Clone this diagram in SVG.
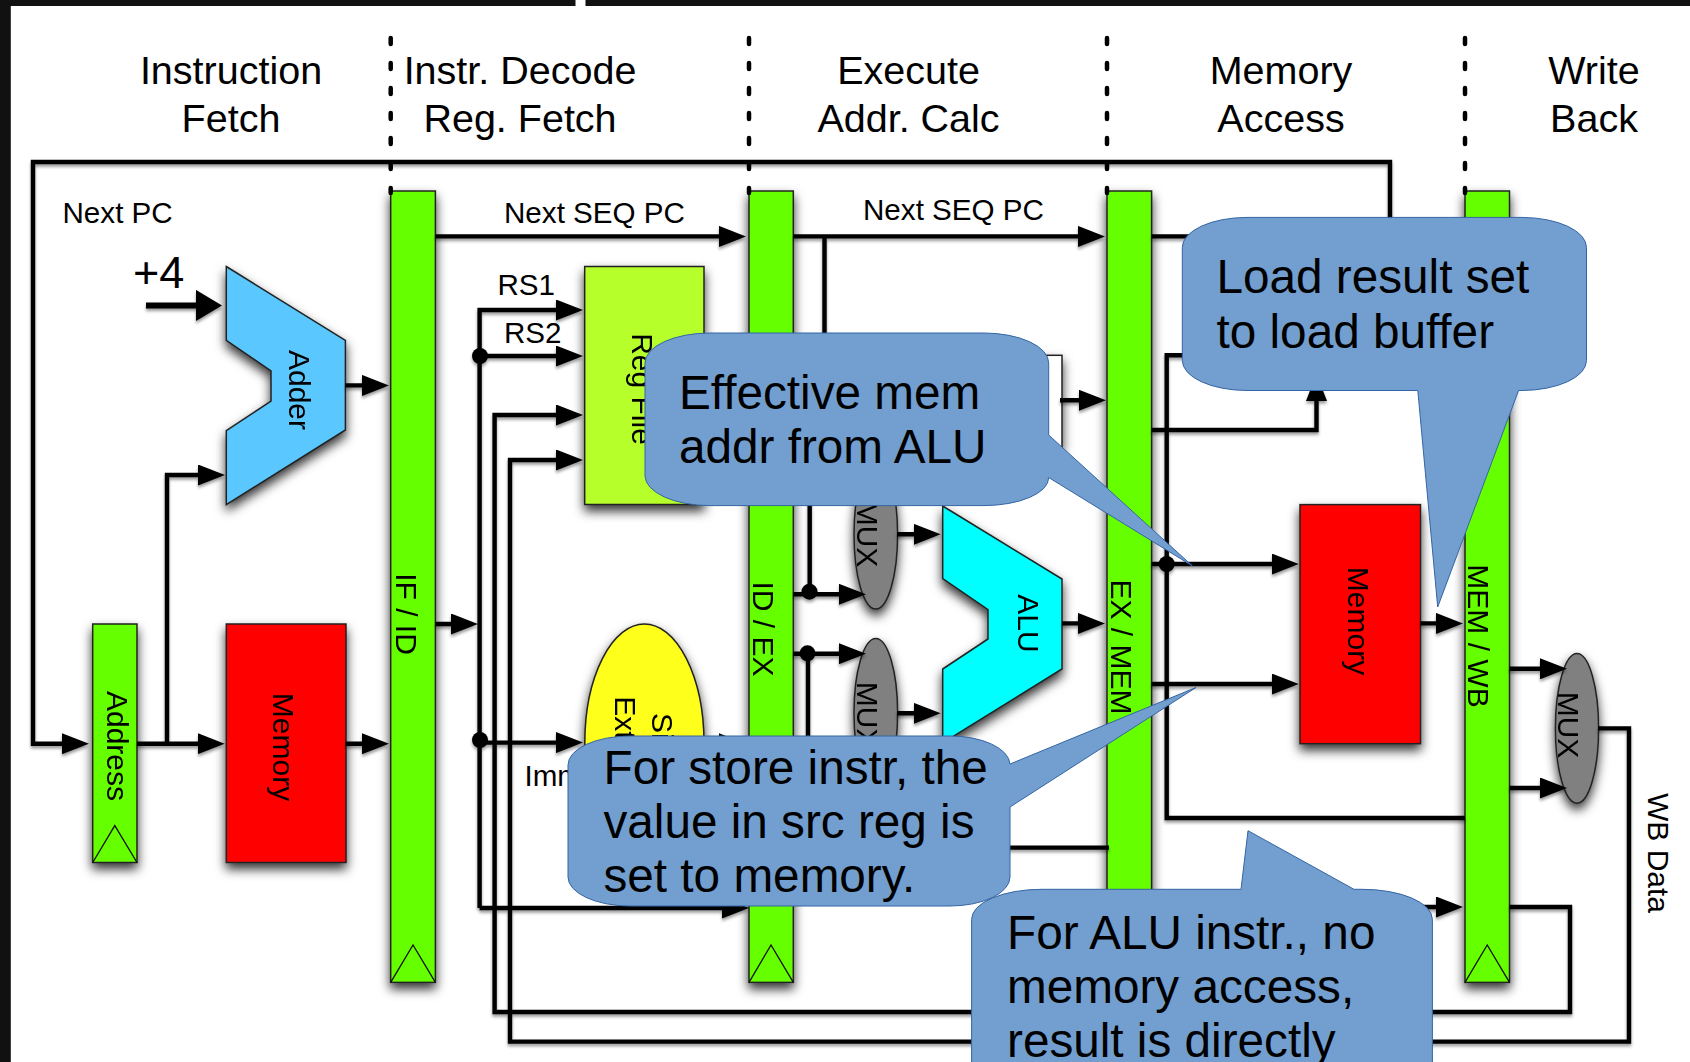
<svg xmlns="http://www.w3.org/2000/svg" width="1690" height="1062" viewBox="0 0 1690 1062">
<style>
text{font-family:"Liberation Sans",Arial,sans-serif;fill:#000}
.h{font-size:39.5px;text-anchor:middle}
.l{font-size:29.6px}
.r{font-size:30px;text-anchor:middle}
.n{font-size:47.7px}
.box{stroke:#222;stroke-width:1.5}
.bar{fill:#66ff00;stroke:#222;stroke-width:1.5}
.clk{fill:none;stroke:#111;stroke-width:1.3}
.w{fill:none;stroke:#000;stroke-width:4.4;stroke-linejoin:miter}
.a{marker-end:url(#ah)}
.sep{fill:none;stroke:#000;stroke-width:4.5;stroke-dasharray:6 19;stroke-linecap:round}
.note{fill:#729fcf;stroke:#3465a4;stroke-width:1}
</style>
<defs>
<marker id="ah" markerUnits="userSpaceOnUse" markerWidth="27" markerHeight="21" viewBox="0 0 27 21" refX="17" refY="10.5" orient="auto"><path d="M0 0L27 10.5L0 21Z" fill="#000"/></marker>
<marker id="ah4" markerUnits="userSpaceOnUse" markerWidth="26" markerHeight="31" viewBox="0 0 26 31" refX="16" refY="15.5" orient="auto"><path d="M0 0L26 15.5L0 31Z" fill="#000"/></marker>
<filter id="sh" x="-40%" y="-20%" width="180%" height="140%"><feDropShadow dx="0" dy="6" stdDeviation="5.5" flood-color="#000" flood-opacity=".8"/></filter>
<filter id="ls" filterUnits="userSpaceOnUse" x="0" y="0" width="1690" height="1062"><feDropShadow dx="0" dy="2.5" stdDeviation="1.6" flood-color="#000" flood-opacity=".4"/></filter>
</defs>
<rect width="1690" height="1062" fill="#fff"/>
<g id="frame"><rect x="0" y="0" width="10.8" height="1062" fill="#111"/><rect x="0" y="0" width="575.5" height="6" fill="#111"/><rect x="585.5" y="0" width="1104.5" height="6" fill="#111"/></g>
<g id="stage-labels">
<text class="h" x="231" y="84">Instruction</text><text class="h" x="231" y="131.5">Fetch</text>
<text class="h" x="520" y="84">Instr. Decode</text><text class="h" x="520" y="131.5">Reg. Fetch</text>
<text class="h" x="908.5" y="84">Execute</text><text class="h" x="908.5" y="131.5">Addr. Calc</text>
<text class="h" x="1281" y="84">Memory</text><text class="h" x="1281" y="131.5">Access</text>
<text class="h" x="1594" y="84">Write</text><text class="h" x="1594" y="131.5">Back</text>
</g>
<g id="address" filter="url(#sh)"><rect class="bar" x="92.7" y="624" width="44.3" height="238.5"/><path class="clk" d="M92.7 862.5L114.8 825.6L137 862.5"/><text class="r" transform="translate(107 746) rotate(90)">Address</text></g>
<g id="instr-memory" filter="url(#sh)"><rect class="box" fill="#ff0000" x="226.3" y="624" width="119.7" height="238.5"/><text class="r" transform="translate(272.5 747) rotate(90)">Memory</text></g>
<g id="adder" filter="url(#sh)"><path class="box" fill="#5ac8ff" d="M226.3 266.5L345.4 340.3V430L226.3 504.6V430.7L271 401V370.8L226.3 340.3Z"/><text class="r" transform="translate(289 390) rotate(90)">Adder</text></g>
<g id="if-id" filter="url(#sh)"><rect class="bar" x="390.7" y="191" width="44.7" height="791.4"/><path class="clk" d="M390.7 982.4L413 945L435.4 982.4"/><text class="r" transform="translate(395.5 614) rotate(90)">IF / ID</text></g>
<g id="reg-file" filter="url(#sh)"><rect class="box" fill="#b6ff2a" x="584.7" y="266.5" width="119.3" height="238"/><text class="r" transform="translate(632 389) rotate(90)">Reg File</text></g>
<g id="sign-extend" filter="url(#sh)"><ellipse class="box" fill="#ffff1f" cx="644.4" cy="743" rx="59.6" ry="119"/><text class="r" transform="translate(651.5 743) rotate(90)">Sign</text><text class="r" transform="translate(615 743) rotate(90)">Extend</text></g>
<g id="id-ex" filter="url(#sh)"><rect class="bar" x="749" y="191" width="44.3" height="791.4"/><path class="clk" d="M749 982.4L771 945L793.3 982.4"/><text class="r" transform="translate(752.5 629) rotate(90)">ID / EX</text></g>
<g id="mux-upper" filter="url(#sh)"><ellipse class="box" fill="#808080" cx="875.8" cy="534.5" rx="21.8" ry="74.5"/><text class="r" transform="translate(856.5 534) rotate(90)">MUX</text></g>
<g id="mux-lower" filter="url(#sh)"><ellipse class="box" fill="#808080" cx="875.8" cy="713" rx="21.8" ry="74.5"/><text class="r" transform="translate(856.5 715) rotate(90)">MUX</text></g>
<g id="alu" filter="url(#sh)"><path class="box" fill="#00ffff" d="M942.7 506L1062 579V669L942.7 743V669L988 639V609.6L942.7 578.5Z"/><text class="r" transform="translate(1017.5 623.5) rotate(90)">ALU</text></g>
<g id="zero-box" filter="url(#sh)"><rect class="box" fill="#fff" x="990" y="355.3" width="72" height="91.7"/></g>
<g id="ex-mem" filter="url(#sh)"><rect class="bar" x="1107" y="191" width="44.6" height="791.4"/><path class="clk" d="M1107 982.4L1129.3 945L1151.6 982.4"/><text class="r" transform="translate(1111 647) rotate(90)">EX / MEM</text></g>
<g id="data-memory" filter="url(#sh)"><rect class="box" fill="#ff0000" x="1300" y="504.6" width="120.5" height="239.1"/><text class="r" transform="translate(1347.5 621) rotate(90)">Memory</text></g>
<g id="mem-wb" filter="url(#sh)"><rect class="bar" x="1465" y="191" width="44.5" height="791.4"/><path class="clk" d="M1465 982.4L1487.2 945L1509.5 982.4"/><text class="r" transform="translate(1467.5 636) rotate(90)">MEM / WB</text></g>
<g id="mux-wb" filter="url(#sh)"><ellipse class="box" fill="#808080" cx="1577" cy="728.4" rx="21.6" ry="74.8"/><text class="r" transform="translate(1558 725) rotate(90)">MUX</text></g>
<path id="separators" class="sep" d="M390.7 38V193M749 38V193M1107 38V193M1465 38V193"/>
<g id="connectors" filter="url(#ls)">
<path class="w a" d="M1390 220V162H33V743.7H79"/>
<path class="w" style="stroke-width:6;marker-end:url(#ah4)" d="M146 305.4H212"/>
<path class="w a" d="M167 743.7V475H215"/>
<path class="w a" d="M137 743.7H214.7"/>
<path class="w a" d="M345.4 743.7H379"/>
<path class="w a" d="M345.4 385.4H379"/>
<path class="w a" d="M435.4 236.4H736"/>
<path class="w a" d="M793.3 236.4H1095"/>
<path class="w" d="M1151.6 236.4H1190M824.5 236.4V340"/>
<path class="w a" d="M435.4 624H468"/>
<path class="w a" d="M479.6 908V310H573"/>
<path class="w a" d="M479.6 908H739"/>
<path class="w a" d="M479.6 356H573"/>
<path class="w a" d="M479.6 742.6H573"/>
<path class="w a" d="M1509.5 907H1570V1012H494.6V415H573"/>
<path class="w a" d="M1598 728.4H1629V1041.6H510V460H573"/>
<path class="w a" d="M704 743.7H736"/>
<path class="w a" d="M1151.6 907H1453"/>
<path class="w" d="M1000 847.6H1109"/>
<path class="w" d="M809.7 500V594M808 653.7V740"/>
<path class="w a" d="M793.3 594.3H856"/>
<path class="w a" d="M793.3 653.7H856"/>
<path class="w a" d="M897 534.3H930.7"/>
<path class="w a" d="M897 713.3H930.7"/>
<path class="w a" d="M1062 623.4H1095"/>
<path class="w a" d="M1060 400.3H1096"/>
<path class="w" d="M1190 355.3H1166.7V818H1465"/>
<path class="w a" d="M1151.6 564H1288.7"/>
<path class="w a" d="M1151.6 684H1288.7"/>
<path class="w a" d="M1151.6 430H1316.5V384"/>
<path class="w a" d="M1420.5 623.4H1453"/>
<path class="w a" d="M1509.5 668.8H1557"/>
<path class="w a" d="M1509.5 788H1557"/>
<circle cx="480" cy="356" r="8"/><circle cx="480" cy="740" r="8"/><circle cx="809.5" cy="591.7" r="8"/><circle cx="807.5" cy="653.3" r="8"/><circle cx="1166.7" cy="564" r="8"/>
</g>
<g id="wire-labels">
<text class="l" x="62.5" y="223">Next PC</text>
<text class="l" x="504" y="223">Next SEQ PC</text>
<text class="l" x="863" y="220">Next SEQ PC</text>
<text class="l" style="font-size:45px" x="133" y="288">+4</text>
<text class="l" x="497.5" y="295">RS1</text>
<text class="l" x="504" y="343">RS2</text>
<text class="l" x="524.5" y="786">Imm</text>
<text class="r" transform="translate(1648 853) rotate(90)">WB Data</text>
</g>
<g id="note-effective"><path class="note" d="M710 333H984A65 30 0 0 1 1048.7 363V435L1192.5 566L1048.7 477.5A65 28 0 0 1 984 505.6H710A65 30 0 0 1 645 476V363A65 30 0 0 1 710 333Z"/><text class="n" x="679" y="409">Effective mem</text><text class="n" x="679" y="463">addr from ALU</text></g>
<g id="note-load"><path class="note" d="M1247 217.4H1522A65 30 0 0 1 1586.5 247.4V360.5A65 30 0 0 1 1522 390.5H1518.6L1437.7 607L1417.8 390.5H1247A65 30 0 0 1 1182.3 360.5V247.4A65 30 0 0 1 1247 217.4Z"/><text class="n" x="1216.5" y="293">Load result set</text><text class="n" x="1216.5" y="348">to load buffer</text></g>
<g id="note-store"><path class="note" d="M630 736H950A60 29 0 0 1 1010 764L1196 687.5L1010 807V877A60 29 0 0 1 950 906H630A62 29 0 0 1 568 877V765A62 29 0 0 1 630 736Z"/><text class="n" x="603.5" y="783.5">For store instr, the</text><text class="n" x="603.5" y="837.5">value in src reg is</text><text class="n" x="603.5" y="891.5">set to memory.</text></g>
<g id="note-alu"><path class="note" d="M1042 889.3H1241L1248 830.7L1354 889.3H1362A70 30 0 0 1 1432.4 919.3V1100H971.6V919.3A70 30 0 0 1 1042 889.3Z"/><text class="n" x="1007" y="949">For ALU instr., no</text><text class="n" x="1007" y="1003.4">memory access,</text><text class="n" x="1007" y="1057">result is directly</text></g>
</svg>
